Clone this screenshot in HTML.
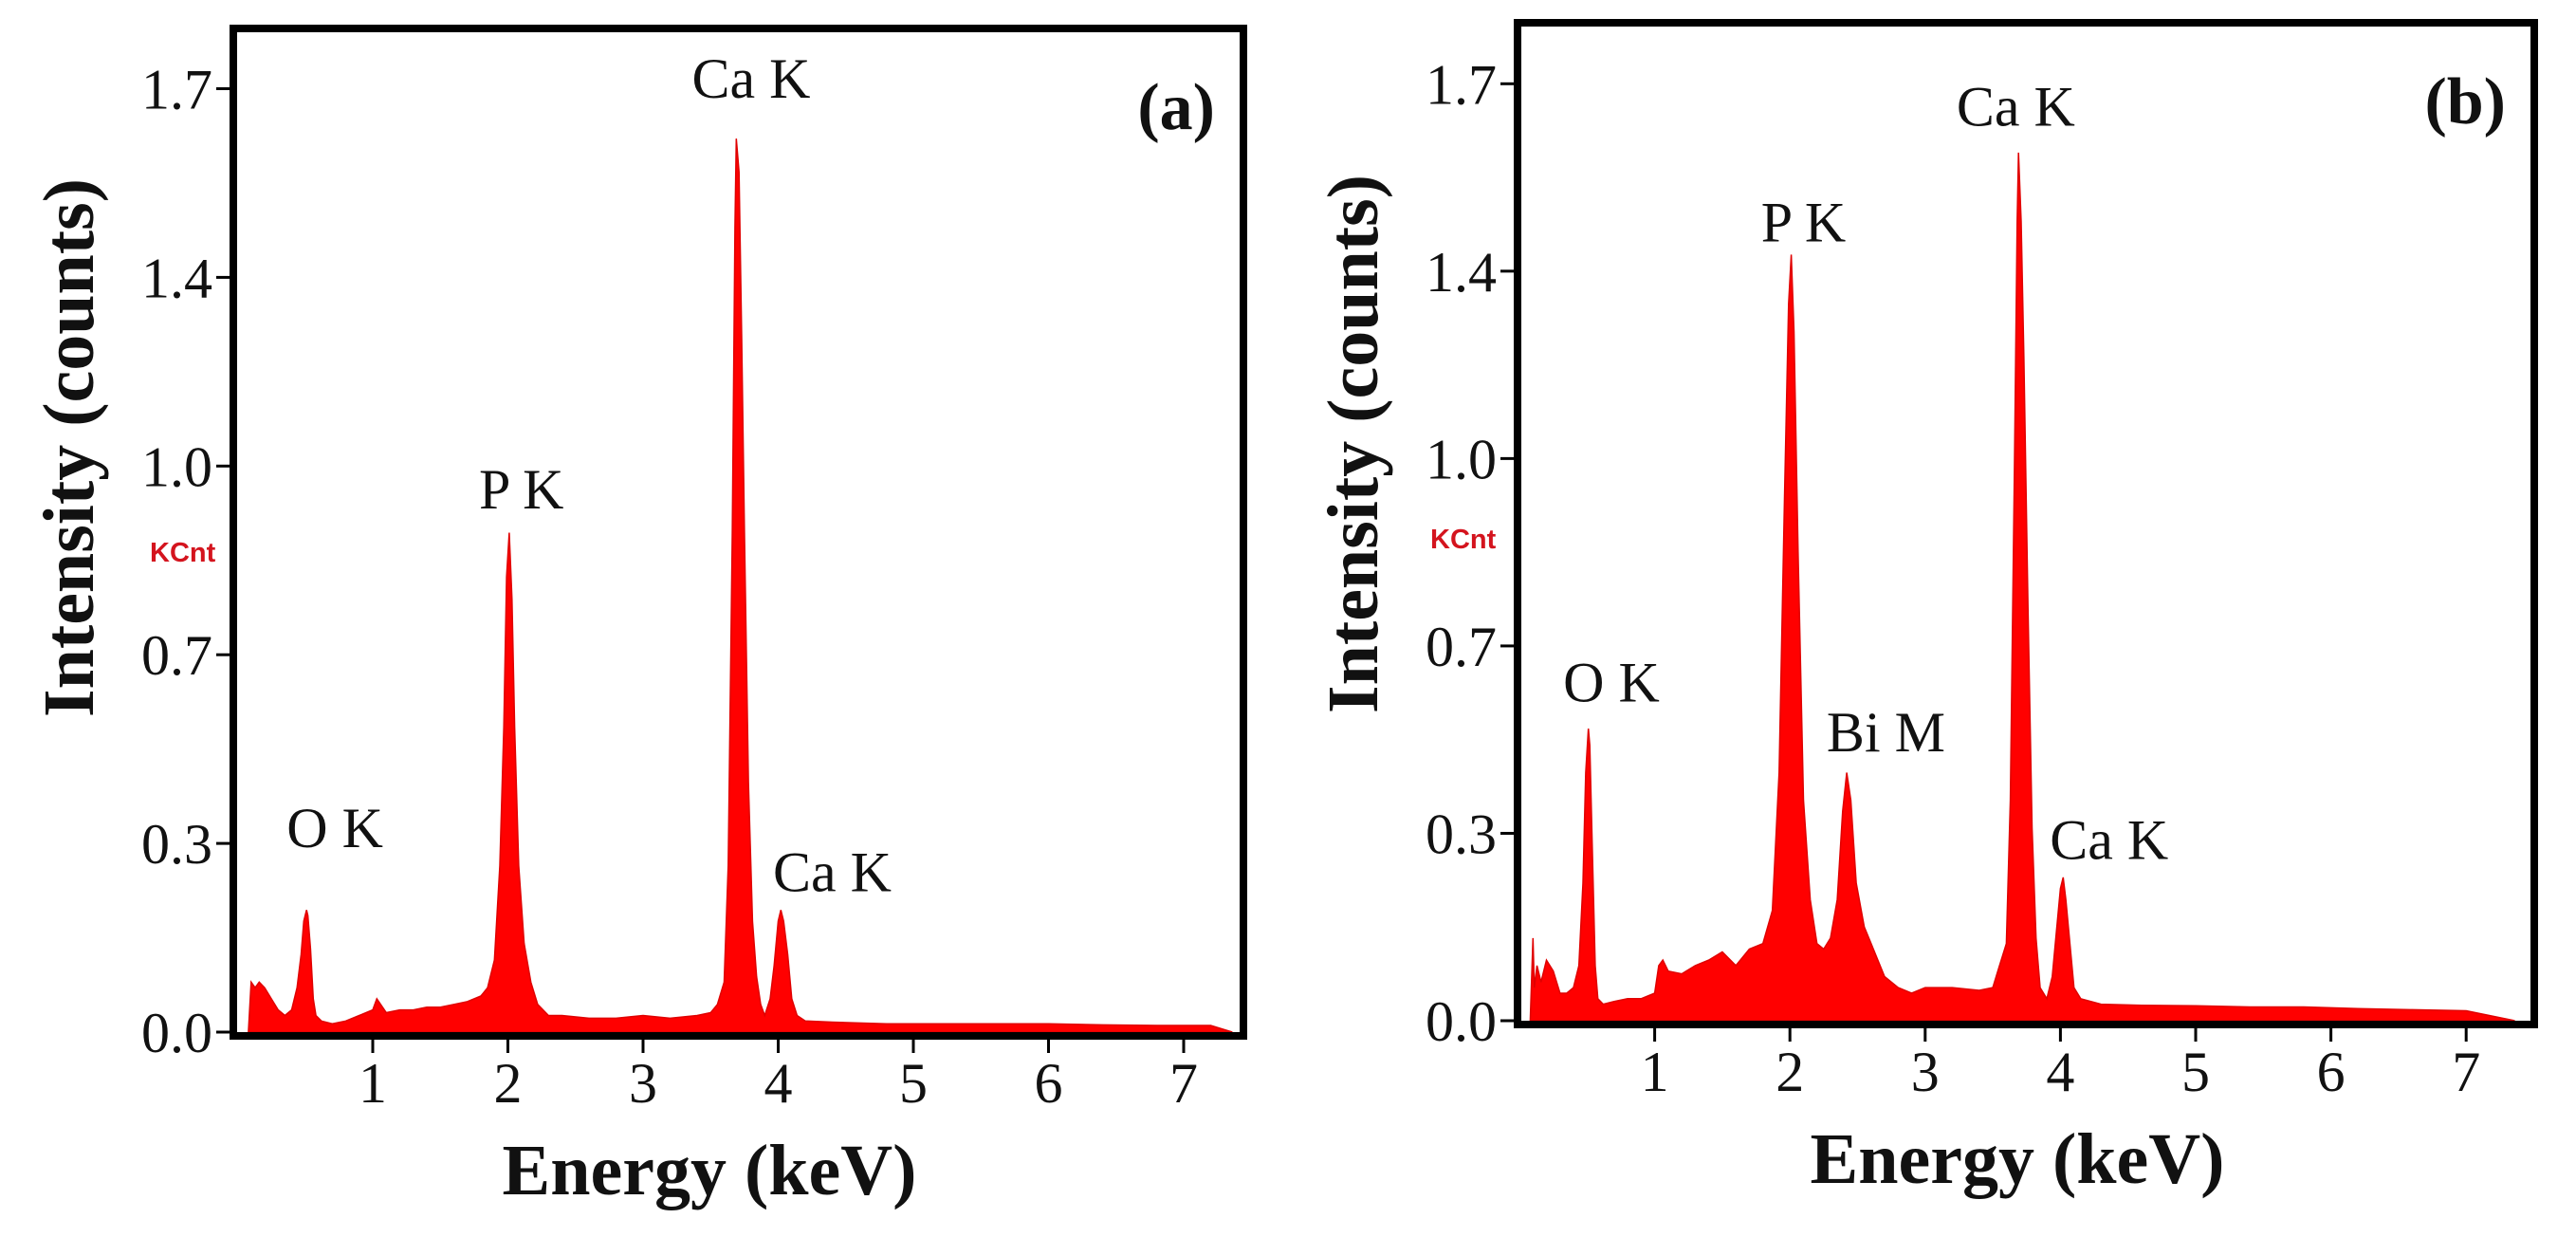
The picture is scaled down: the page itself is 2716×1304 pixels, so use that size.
<!DOCTYPE html>
<html><head><meta charset="utf-8"><style>
html,body{margin:0;padding:0;background:#fff;}
svg{display:block;}
text{font-family:"Liberation Serif",serif;fill:#111;}
.tk{font-size:60px;}
.pk{font-size:60px;}
.ttl{font-size:76px;font-weight:bold;}
.kc{font-family:"Liberation Sans",sans-serif;font-size:29px;font-weight:bold;fill:#d4141e;}
</style></head><body>
<svg id="fig" width="2716" height="1304" viewBox="0 0 2716 1304" xmlns="http://www.w3.org/2000/svg"></svg>
<script>
// Y tick values (KCnt) and their labels
const yTickVals = [0, 0.34, 0.68, 1.02, 1.36, 1.7];
const yTickLabels = ["0.0", "0.3", "0.7", "1.0", "1.4", "1.7"];
const xTickVals = [1, 2, 3, 4, 5, 6, 7];
const xTickLabels = ["1", "2", "3", "4", "5", "6", "7"];

// Panel (a) spectrum
const energyA = [0.08,0.1,0.13,0.16,0.2,0.25,0.3,0.35,0.4,0.44,
 0.47,0.49,0.51,0.52,0.54,0.56,0.58,0.62,0.7,0.8,
 0.9,1.0,1.03,1.1,1.2,1.3,1.4,1.5,1.6,1.7,
 1.8,1.85,1.9,1.94,1.97,1.99,2.01,2.03,2.05,2.08,
 2.12,2.17,2.22,2.3,2.4,2.6,2.8,3.0,3.2,3.4,
 3.5,3.55,3.6,3.63,3.66,3.68,3.69,3.71,3.73,3.75,
 3.78,3.81,3.84,3.87,3.9,3.94,3.97,4.0,4.02,4.04,
 4.07,4.1,4.14,4.2,4.4,4.8,5.2,5.6,6.0,6.4,
 6.8,7.2,7.36];
const countsA = [0,0.09,0.08,0.09,0.08,0.06,0.04,0.03,0.04,0.08,
 0.14,0.2,0.22,0.21,0.15,0.06,0.03,0.02,0.015,0.02,
 0.03,0.04,0.06,0.035,0.04,0.04,0.045,0.045,0.05,0.055,
 0.065,0.08,0.13,0.3,0.55,0.82,0.9,0.78,0.55,0.3,
 0.16,0.09,0.05,0.03,0.03,0.025,0.025,0.03,0.025,0.03,
 0.035,0.05,0.09,0.3,0.9,1.45,1.61,1.55,1.25,0.9,
 0.45,0.2,0.1,0.05,0.03,0.06,0.12,0.2,0.22,0.2,
 0.14,0.06,0.03,0.02,0.018,0.015,0.015,0.015,0.015,0.013,
 0.012,0.012,0];

// Panel (b) spectrum
const energyB = [0.08,0.1,0.11,0.13,0.16,0.2,0.25,0.3,0.35,0.4,
 0.44,0.47,0.49,0.51,0.52,0.54,0.56,0.58,0.62,0.7,
 0.8,0.9,1.0,1.03,1.06,1.1,1.2,1.3,1.4,1.5,
 1.6,1.7,1.8,1.87,1.92,1.96,1.99,2.01,2.03,2.06,
 2.1,2.15,2.2,2.25,2.3,2.35,2.39,2.42,2.45,2.49,
 2.55,2.6,2.7,2.8,2.9,3.0,3.2,3.4,3.5,3.55,
 3.6,3.63,3.66,3.68,3.69,3.71,3.73,3.76,3.79,3.82,
 3.85,3.9,3.94,3.97,4.0,4.02,4.04,4.07,4.1,4.15,
 4.3,4.6,5.0,5.4,5.8,6.2,6.6,7.0,7.36];
const countsB = [0,0.15,0.06,0.1,0.07,0.11,0.09,0.05,0.05,0.06,
 0.1,0.25,0.45,0.53,0.5,0.3,0.1,0.04,0.03,0.035,
 0.04,0.04,0.05,0.1,0.11,0.09,0.085,0.1,0.11,0.125,
 0.1,0.13,0.14,0.2,0.45,0.95,1.3,1.39,1.25,0.85,
 0.4,0.22,0.14,0.13,0.15,0.22,0.38,0.45,0.4,0.25,
 0.17,0.14,0.08,0.06,0.05,0.06,0.06,0.055,0.06,0.1,
 0.14,0.4,1.0,1.45,1.575,1.45,1.2,0.75,0.35,0.15,
 0.06,0.04,0.08,0.16,0.24,0.26,0.22,0.14,0.06,0.04,
 0.03,0.028,0.027,0.025,0.025,0.022,0.02,0.018,0];

const peakLabelsA = ["Ca K", "P K", "O K", "Ca K"];
const peakLabelEA = [3.8, 2.1, 0.72, 4.4];
const peakLabelVA = [1.67, 0.93, 0.32, 0.24];
const peakLabelsB = ["Ca K", "P K", "O K", "Bi M", "Ca K"];
const peakLabelEB = [3.67, 2.1, 0.68, 2.71, 4.36];
const peakLabelVB = [1.61, 1.40, 0.565, 0.475, 0.28];

const NS = "http://www.w3.org/2000/svg";
const svg = document.getElementById('fig');
function mk(tag, attrs, parent) {
  const e = document.createElementNS(NS, tag);
  for (const k in attrs) e.setAttribute(k, attrs[k]);
  (parent || svg).appendChild(e);
  return e;
}

function panel(cfg) {
  const g = mk('g', {});
  
  
  const xs = e => cfg.x0 + cfg.kx * e;
  const ys = v => cfg.y0 - cfg.ky * v;
  let d = 'M' + xs(cfg.E[0]) + ',' + ys(0);
  for (let i = 0; i < cfg.E.length; i++) d += ' L' + xs(cfg.E[i]).toFixed(1) + ',' + ys(cfg.C[i]).toFixed(1);
  d += ' L' + xs(cfg.E[cfg.E.length - 1]) + ',' + ys(0) + ' Z';
  const sp = mk('path', {d: d, fill: '#ff0000', stroke: '#e00000', 'stroke-width': 1.5}, g);
  
  
  const fr = mk('rect', {x: cfg.bx1 + 4, y: cfg.by1 + 4, width: cfg.bx2 - cfg.bx1 - 8, height: cfg.by2 - cfg.by1 - 8, fill: 'none', stroke: '#000', 'stroke-width': 8}, g);
  
  
  yTickVals.forEach((v, i) => {
    const t = mk('line', {x1: cfg.bx1 - 14, x2: cfg.bx1, y1: ys(v), y2: ys(v), stroke: '#000', 'stroke-width': 3}, g);
    
    
    const l = mk('text', {x: cfg.bx1 - 18, y: ys(v) + 21, 'text-anchor': 'end', class: 'tk'}, g);
    l.textContent = yTickLabels[i];
    
    
  });
  xTickVals.forEach((v, i) => {
    const t = mk('line', {x1: xs(v), x2: xs(v), y1: cfg.by2, y2: cfg.by2 + 14, stroke: '#000', 'stroke-width': 3}, g);
    
    
    const l = mk('text', {x: xs(v), y: cfg.by2 + 66, 'text-anchor': 'middle', class: 'tk'}, g);
    l.textContent = xTickLabels[i];
    
    
  });
  cfg.pl.forEach((s, i) => {
    const l = mk('text', {x: xs(cfg.pe[i]), y: ys(cfg.pv[i]) - 8, 'text-anchor': 'middle', class: 'pk'}, g);
    l.textContent = s;
    
    
  });
  const xt = mk('text', {x: cfg.xtx, y: cfg.by2 + 163, 'text-anchor': 'middle', class: 'ttl'}, g);
  xt.textContent = 'Energy (keV)';
  
  
  const yt = mk('text', {x: 0, y: 0, 'text-anchor': 'middle', class: 'ttl', transform: 'translate(' + cfg.ytx + ',' + cfg.yty + ') rotate(-90)'}, g);
  yt.textContent = 'Intensity (counts)';
  
  
  const kc = mk('text', {x: cfg.kcx, y: cfg.kcy, class: 'kc'}, g);
  kc.textContent = 'KCnt';
  
  
  const pl = mk('text', {x: cfg.bx2 - 34, y: cfg.by1 + 110, 'text-anchor': 'end', class: 'ttl', style: 'font-size:70px'}, g);
  pl.textContent = cfg.tag;
  
  
}

panel({name: 'panel-a', x0: 250.5, kx: 142.5, y0: 1088, ky: 585,
  bx1: 242, bx2: 1315, by1: 26, by2: 1096, E: energyA, C: countsA,
  pl: peakLabelsA, pe: peakLabelEA, pv: peakLabelVA,
  xtx: 748, ytx: 98, yty: 472, kcx: 158, kcy: 592, tag: '(a)'});
panel({name: 'panel-b', x0: 1602, kx: 142.6, y0: 1076, ky: 581,
  bx1: 1596, bx2: 2676, by1: 20, by2: 1084, E: energyB, C: countsB,
  pl: peakLabelsB, pe: peakLabelEB, pv: peakLabelVB,
  xtx: 2127, ytx: 1452, yty: 468, kcx: 1508, kcy: 578, tag: '(b)'});
</script>
</body></html>
